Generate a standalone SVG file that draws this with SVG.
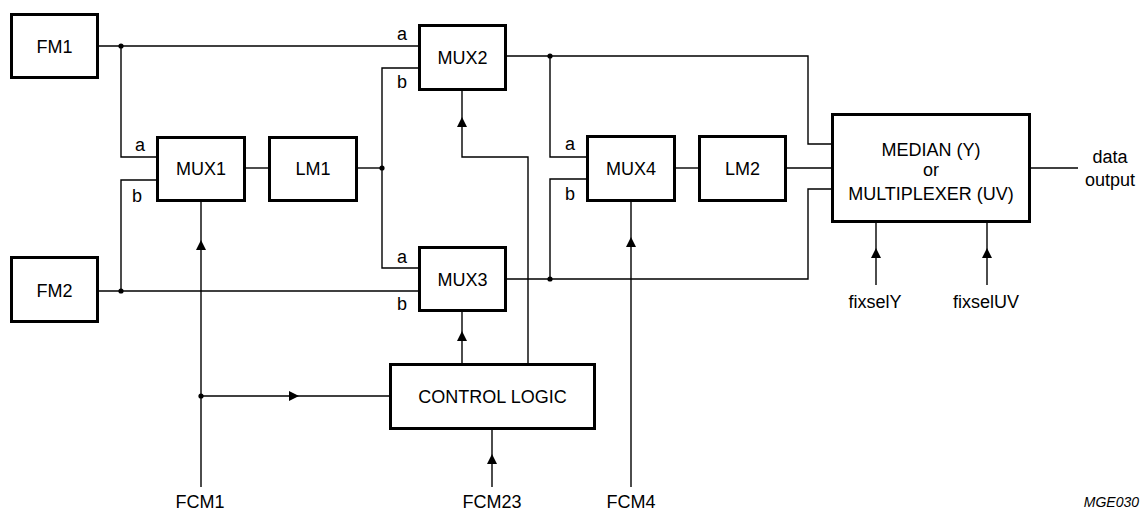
<svg xmlns="http://www.w3.org/2000/svg" xmlns:xlink="http://www.w3.org/1999/xlink" width="1148" height="513" viewBox="0 0 1148 513">
<style>
.box{fill:#fff;stroke:#000;stroke-width:3}
.ln{fill:none;stroke:#000;stroke-width:1.4}
text{font-family:"Liberation Sans",Arial,Helvetica,sans-serif;font-size:18px;fill:#000}
.c{text-anchor:middle}
.ref{font-size:14px;font-style:italic;text-anchor:end}
</style>
<defs>
<path id="au" d="M0,0 L-5,10 L5,10 Z" fill="#000"/>
<path id="ar" d="M0,0 L-10,-5 L-10,5 Z" fill="#000"/>
</defs>
<rect width="1148" height="513" fill="#fff"/>
<g id="connectors">
<path class="ln" d="M99,46 H418"/>
<path class="ln" d="M121,46 V157 H156"/>
<path class="ln" d="M99,291 H418"/>
<path class="ln" d="M121,291 V180 H156"/>
<path class="ln" d="M246,168 H268"/>
<path class="ln" d="M358,168 H382"/>
<path class="ln" d="M418,68 H382 V268 H418"/>
<path class="ln" d="M507,56 H808 V144 H831"/>
<path class="ln" d="M550,56 V157 H586"/>
<path class="ln" d="M507,279 H808 V189 H831"/>
<path class="ln" d="M550,279 V179 H586"/>
<path class="ln" d="M676,168 H698"/>
<path class="ln" d="M787,168 H831"/>
<path class="ln" d="M1031,168 H1078"/>
<path class="ln" d="M201,487 V202"/>
<path class="ln" d="M201,396 H389"/>
<path class="ln" d="M462,363 V312"/>
<path class="ln" d="M528,363 V157 H462 V91"/>
<path class="ln" d="M492,487 V430"/>
<path class="ln" d="M631,487 V202"/>
<path class="ln" d="M876,285 V223"/>
<path class="ln" d="M987,285 V223"/>
<use xlink:href="#au" x="201" y="240"/>
<use xlink:href="#ar" x="299" y="396"/>
<use xlink:href="#au" x="462" y="331"/>
<use xlink:href="#au" x="462" y="117"/>
<use xlink:href="#au" x="492" y="454"/>
<use xlink:href="#au" x="631" y="237"/>
<use xlink:href="#au" x="876" y="248"/>
<use xlink:href="#au" x="987" y="248"/>
<circle cx="121" cy="46" r="2.6"/>
<circle cx="121" cy="291" r="2.6"/>
<circle cx="382" cy="168" r="2.6"/>
<circle cx="550" cy="56" r="2.6"/>
<circle cx="550" cy="279" r="2.6"/>
<circle cx="201" cy="396" r="2.6"/>
</g>
<g id="FM1"><rect class="box" x="11.5" y="14.5" width="86" height="63"/><text class="c" x="54.5" y="52.5">FM1</text></g>
<g id="FM2"><rect class="box" x="11.5" y="257.5" width="86" height="64"/><text class="c" x="54.5" y="296.5">FM2</text></g>
<g id="MUX1"><rect class="box" x="157.5" y="137.5" width="87" height="63"/><text class="c" x="201" y="175">MUX1</text>
<text class="c" x="140" y="150.5">a</text><text class="c" x="137" y="201.5">b</text></g>
<g id="LM1"><rect class="box" x="269.5" y="137.5" width="87" height="63"/><text class="c" x="313" y="175">LM1</text></g>
<g id="MUX2"><rect class="box" x="419.5" y="25.5" width="86" height="64"/><text class="c" x="462.5" y="64">MUX2</text>
<text class="c" x="402" y="40">a</text><text class="c" x="402" y="88">b</text></g>
<g id="MUX3"><rect class="box" x="419.5" y="247.5" width="86" height="63"/><text class="c" x="462.5" y="285.5">MUX3</text>
<text class="c" x="402" y="262.5">a</text><text class="c" x="402" y="310">b</text></g>
<g id="MUX4"><rect class="box" x="587.5" y="136.5" width="87" height="64"/><text class="c" x="631" y="175">MUX4</text>
<text class="c" x="570" y="150">a</text><text class="c" x="570" y="200">b</text></g>
<g id="LM2"><rect class="box" x="699.5" y="136.5" width="86" height="64"/><text class="c" x="742.5" y="175">LM2</text></g>
<g id="MEDIAN"><rect class="box" x="832.5" y="114.5" width="197" height="107"/>
<text class="c" x="931" y="155.5">MEDIAN (Y)</text><text class="c" x="931" y="175.5">or</text><text class="c" x="931" y="199.5">MULTIPLEXER (UV)</text></g>
<g id="CONTROL_LOGIC"><rect class="box" x="390.5" y="364.5" width="204" height="64"/><text class="c" x="492.5" y="403">CONTROL LOGIC</text></g>
<g id="labels">
<text class="c" x="1110" y="163">data</text>
<text class="c" x="1110" y="186">output</text>
<text class="c" x="875" y="308">fixselY</text>
<text class="c" x="986" y="308">fixselUV</text>
<text class="c" x="200" y="508">FCM1</text>
<text class="c" x="492" y="508">FCM23</text>
<text class="c" x="631" y="508">FCM4</text>
<text class="ref" x="1139" y="507">MGE030</text>
</g>
</svg>
